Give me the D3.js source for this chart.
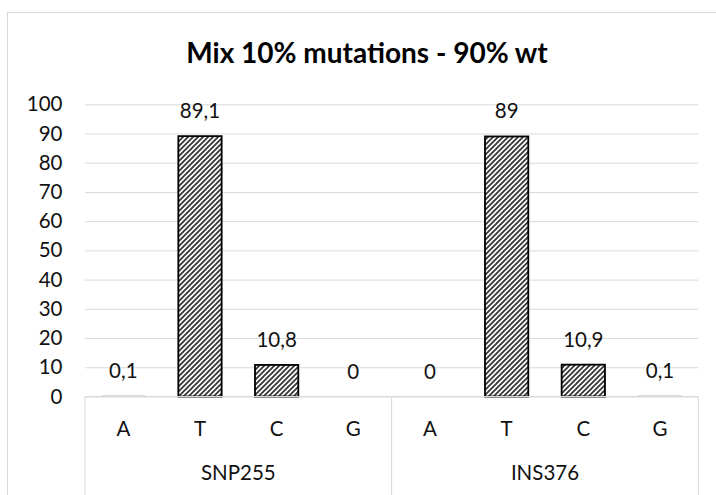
<!DOCTYPE html>
<html>
<head>
<meta charset="utf-8">
<script src="https://cdn.jsdelivr.net/npm/d3@7"></script>
<style>
  html, body { margin: 0; padding: 0; background: #fff; }
  svg { display: block; font-family: Lato, "Open Sans", sans-serif; }
</style>
</head>
<body>
<svg id="chart" width="716" height="495"></svg>
<script>
// Chart content
const chartTitle = "Mix 10% mutations - 90% wt";
const groups = ["SNP255", "INS376"];
const bases = ["A", "T", "C", "G"];
const snp255Values = [0.1, 89.1, 10.8, 0];
const ins376Values = [0, 89, 10.9, 0.1];
const yTickValues = [0, 10, 20, 30, 40, 50, 60, 70, 80, 90, 100];

// Flatten into one row per bar
const rows = [];
groups.forEach((g, gi) => {
  const vals = gi === 0 ? snp255Values : ins376Values;
  bases.forEach((b, bi) => rows.push({ group: g, base: b, value: vals[bi], key: g + "-" + b }));
});

const W = 716, H = 495;
const plot = { left: 85, right: 698.3, top: 104.3, bottom: 396.5 };
const labelSize = 20.5;

const svg = d3.select("#chart");

// Diagonal stripe fill for the bars
const defs = svg.append("defs");
const pat = defs.append("pattern")
  .attr("id", "stripes")
  .attr("patternUnits", "userSpaceOnUse")
  .attr("width", 5).attr("height", 5);
pat.append("rect").attr("width", 5).attr("height", 5).attr("fill", "#fff");
pat.append("path")
  .attr("d", "M-1,1 L1,-1 M0,5 L5,0 M4,6 L6,4")
  .attr("stroke", "#3a3a3a")
  .attr("stroke-width", 1.9);

// Outer chart frame
svg.append("rect")
  .attr("x", 7.5).attr("y", 12.5)
  .attr("width", 730).attr("height", 510)
  .attr("fill", "none")
  .attr("stroke", "#d9d9d9")
  .attr("stroke-width", 1);

// Title
svg.append("text")
  .attr("x", 367).attr("y", 63)
  .attr("text-anchor", "middle")
  .attr("font-size", 28)
  .attr("font-weight", "bold")
  .attr("fill", "#000")
  .text(chartTitle);

// Scales
const x = d3.scaleBand()
  .domain(rows.map(d => d.key))
  .range([plot.left, plot.right])
  .paddingInner(0.435)
  .paddingOuter(0.2175);

const xGroup = d3.scaleBand()
  .domain(groups)
  .range([plot.left, plot.right]);

const y = d3.scaleLinear()
  .domain([0, 100])
  .range([plot.bottom, plot.top]);

// Horizontal gridlines
svg.append("g")
  .attr("transform", `translate(${plot.left},0)`)
  .call(d3.axisLeft(y).tickValues(yTickValues).tickSize(-(plot.right - plot.left)).tickFormat(""))
  .call(g => g.select(".domain").remove())
  .call(g => g.selectAll(".tick line").attr("stroke", "#d9d9d9").attr("stroke-width", 1));

// Y axis labels
svg.append("g")
  .attr("transform", "translate(62.5,0)")
  .call(d3.axisLeft(y).tickValues(yTickValues).tickSize(0).tickPadding(0).tickFormat(d3.format("d")))
  .call(g => g.select(".domain").remove())
  .call(g => g.selectAll("text")
    .attr("font-family", "Lato, sans-serif")
    .attr("font-size", labelSize)
    .attr("fill", "#111"));

// Bars
svg.append("g")
  .selectAll("rect")
  .data(rows.filter(d => d.value > 0))
  .join("rect")
  .attr("x", d => x(d.key))
  .attr("y", d => y(d.value))
  .attr("width", x.bandwidth())
  .attr("height", d => y(0) - y(d.value))
  .attr("fill", "url(#stripes)")
  .attr("stroke", d => d.value < 1 ? "#555" : "#000")
  .attr("stroke-width", d => d.value < 1 ? 0.8 : 1.8);

// Value labels (comma as decimal separator)
const fmt = v => String(v).replace(".", ",");
svg.append("g")
  .selectAll("text")
  .data(rows)
  .join("text")
  .attr("x", d => x(d.key) + x.bandwidth() / 2)
  .attr("y", d => y(d.value) - 18)
  .attr("text-anchor", "middle")
  .attr("font-size", labelSize)
  .attr("fill", "#111")
  .text(d => fmt(d.value));

// Category axis: baseline and group dividers
svg.append("line")
  .attr("x1", plot.left).attr("x2", plot.right)
  .attr("y1", plot.bottom).attr("y2", plot.bottom)
  .attr("stroke", "#d9d9d9").attr("stroke-width", 1);

const dividers = [plot.left, ...groups.map(g => xGroup(g) + xGroup.bandwidth())];
svg.append("g")
  .selectAll("line")
  .data(dividers)
  .join("line")
  .attr("x1", d => d).attr("x2", d => d)
  .attr("y1", plot.bottom).attr("y2", H + 5)
  .attr("stroke", "#d9d9d9").attr("stroke-width", 1);

// Base letters
svg.append("g")
  .selectAll("text")
  .data(rows)
  .join("text")
  .attr("x", d => x(d.key) + x.bandwidth() / 2)
  .attr("y", 435.5)
  .attr("text-anchor", "middle")
  .attr("font-size", labelSize)
  .attr("fill", "#111")
  .text(d => d.base);

// Group labels
svg.append("g")
  .selectAll("text")
  .data(groups)
  .join("text")
  .attr("x", d => xGroup(d) + xGroup.bandwidth() / 2)
  .attr("y", 480)
  .attr("text-anchor", "middle")
  .attr("font-size", labelSize)
  .attr("fill", "#111")
  .text(d => d);
</script>
</body>
</html>
